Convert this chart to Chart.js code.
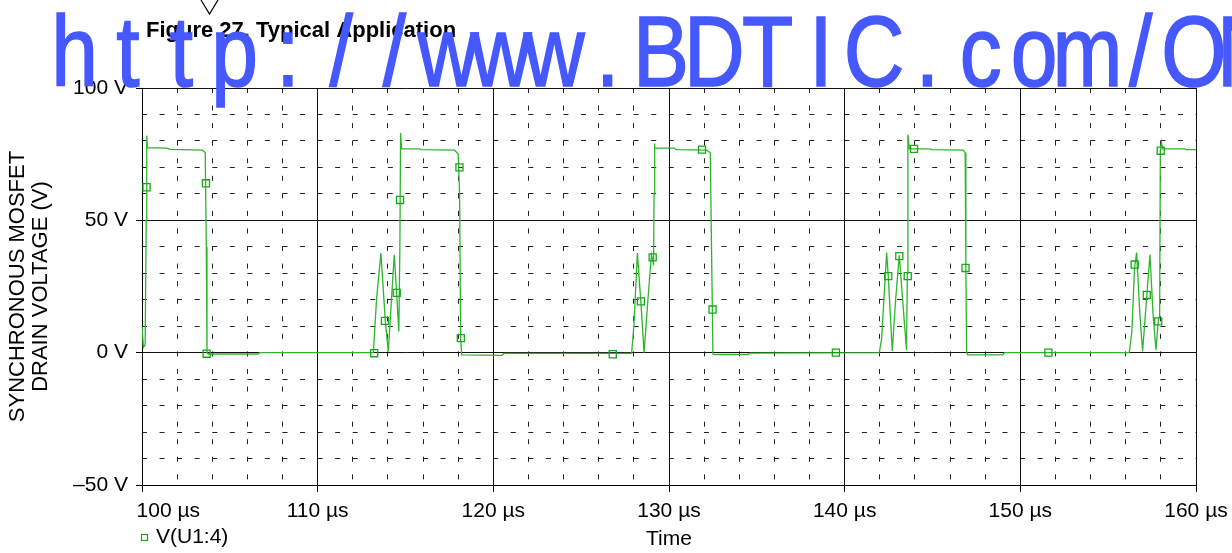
<!DOCTYPE html>
<html><head><meta charset="utf-8">
<script src="https://cdn.jsdelivr.net/npm/chart.js@4.4.1/dist/chart.umd.min.js"></script>
<style>html,body{margin:0;padding:0;background:#fff}#wrap{width:1232px;height:553px;position:relative}</style>
</head><body><div id="wrap"><canvas id="c" width="1232" height="553"></canvas></div>
<script>
// ---- data (time in µs, voltage in V) ----
const timeUs = [100.00,100.08,100.18,100.24,100.27,100.31,101.40,101.60,103.45,103.60,103.66,103.70,103.76,106.60,106.70,
  113.17,113.35,113.60,113.85,114.02,114.20,114.36,114.50,114.62,114.68,114.72,114.78,115.80,115.90,117.80,118.00,118.08,118.14,118.20,120.50,120.60,
  127.87,128.00,128.20,128.40,128.58,128.80,129.00,129.08,129.12,129.15,129.17,129.20,130.30,130.40,132.14,132.35,132.42,132.50,132.60,134.50,134.60,
  141.97,142.10,142.39,142.48,142.71,142.90,143.11,143.30,143.52,143.57,143.60,143.68,144.86,144.95,146.76,146.86,146.90,146.94,147.00,149.00,149.10,
  156.20,156.35,156.50,156.62,156.80,156.96,157.20,157.38,157.55,157.72,157.85,157.93,157.97,158.03,158.10,159.37,159.45,160.00];
const drainV = [10,2,3,50,82,77.5,77.3,76.8,76.5,75.5,40,0,-0.5,-0.5,0,
  0,20,37.6,12,0.5,20,37,22,8,40,83,77,77,76.7,76.5,75,60,5,-0.8,-1,-0.3,
  -0.3,10,37.6,19,0,20,37,35,33,60,79,77.3,77.3,76.7,76.5,75.5,40,-0.4,-0.7,-0.7,-0.2,
  0,5,37.8,29,0.6,20,36.8,20,1,30,82.4,77,77,76.7,76.5,75.5,32,0,-0.8,-0.8,0,
  0,8,32,37.8,15,0.6,21.5,37.1,15,1,12,14,76,79.5,77,77,76.7,76.7];
const markerTimeUs = [100.26,103.64,103.68,113.22,113.83,114.50,114.69,118.07,118.15,126.80,128.40,129.07,131.88,132.48,139.50,142.48,143.11,143.59,143.95,146.88,151.60,156.51,157.20,157.85,157.99];
const markerV      = [62.5,64,-0.4,-0.2,12,22.6,57.7,70,5.5,-0.6,19.4,36,76.7,16.3,0,28.9,36.5,28.9,77,32,0,33.3,21.8,11.8,76.3];
const xMajorTicks = [100,110,120,130,140,150,160];
const yMajorTicks = [-50,0,50,100];
const seriesLabel = 'V(U1:4)';
const xTitle = 'Time';
const yTitle = ['SYNCHRONOUS MOSFET','DRAIN VOLTAGE (V)'];
const figureTitle = 'Figure 27. Typical Application';
const watermark = 'http://www.BDTIC.com/ON';

const FONT = '"Liberation Sans", Arial, Helvetica, sans-serif';
const GREEN = '#2db52d';
const MARK = '#17a817';

const overlay = {
  id: 'overlay',
  afterDraw(chart) {
    const ctx = chart.ctx;
    ctx.save();
    // legend
    ctx.strokeStyle = MARK; ctx.lineWidth = 1.2;
    ctx.strokeRect(141.5, 534.5, 6, 6);
    ctx.fillStyle = '#000'; ctx.font = '21px ' + FONT;
    ctx.textAlign = 'left'; ctx.textBaseline = 'middle';
    ctx.fillText(seriesLabel, 156, 537);
    // figure title
    ctx.font = 'bold 22px ' + FONT; ctx.textBaseline = 'alphabetic';
    ctx.fillText(figureTitle, 146, 37);
    // small V mark
    ctx.beginPath(); ctx.moveTo(201, 0); ctx.lineTo(209.5, 14); ctx.lineTo(218, 0);
    ctx.lineWidth = 1.2; ctx.strokeStyle = '#000'; ctx.stroke();
    // watermark
    ctx.fillStyle = '#4658ff'; ctx.strokeStyle = '#4658ff'; ctx.lineWidth = 1.6;
    ctx.font = '100px ' + FONT; ctx.textAlign = 'center';
    for (let i = 0; i < watermark.length; i++) {
      ctx.save(); ctx.translate(74.7 + i * 53.3, 86); ctx.scale(0.84, 1);
      ctx.fillText(watermark[i], 0, 0); ctx.strokeText(watermark[i], 0, 0); ctx.restore();
    }
    ctx.restore();
  }
};

new Chart(document.getElementById('c'), {
  type: 'line',
  data: {
    datasets: [
      { label: seriesLabel + ' markers', data: markerTimeUs.map((t, i) => ({x: t, y: markerV[i]})),
        showLine: false, pointStyle: 'rect', pointRadius: 5, pointBorderWidth: 1.3,
        pointBorderColor: MARK, pointBackgroundColor: 'rgba(0,0,0,0)', xAxisID: 'x', yAxisID: 'y' },
      { label: seriesLabel, data: timeUs.map((t, i) => ({x: t, y: drainV[i]})),
        borderColor: GREEN, borderWidth: 1.3, pointRadius: 0, tension: 0, fill: false, xAxisID: 'x', yAxisID: 'y' }
    ]
  },
  options: {
    responsive: false, animation: false, devicePixelRatio: 1,
    layout: { padding: { top: 88, right: 36, left: 0, bottom: 0 } },
    plugins: { legend: { display: false }, tooltip: { enabled: false } },
    scales: {
      xm: { type: 'linear', position: 'bottom', min: 100, max: 160,
        ticks: { display: false, stepSize: 2 },
        grid: { drawTicks: false, color: c => (c.tick && c.tick.value % 10 === 0) ? 'rgba(0,0,0,0)' : '#222', lineWidth: 1 },
        border: { display: false, dash: [5, 12.56] },
        afterFit: s => { s.height = 0; s.paddingLeft = 0; s.paddingRight = 0; } },
      ym: { type: 'linear', position: 'left', min: -50, max: 100,
        ticks: { display: false, stepSize: 10 },
        grid: { drawTicks: false, color: c => (c.tick && c.tick.value % 50 === 0) ? 'rgba(0,0,0,0)' : '#222', lineWidth: 1 },
        border: { display: false, dash: [5, 12.56] },
        afterFit: s => { s.width = 0; s.paddingTop = 0; s.paddingBottom = 0; } },
      x: { type: 'linear', position: 'bottom', min: 100, max: 160,
        afterBuildTicks: s => { s.ticks = xMajorTicks.map(v => ({value: v})); },
        ticks: { color: '#000', font: { family: FONT, size: 21 }, padding: 7, maxRotation: 0,
          callback: (v, i) => (i === 0 ? '\u00a0'.repeat(9) : '') + v + ' \u00b5s' },
        grid: { color: '#111', lineWidth: 1, tickLength: 7, tickColor: '#000' },
        border: { display: true, color: '#000', width: 1 },
        title: { display: true, text: xTitle, color: '#000', font: { family: FONT, size: 21 }, padding: { top: 0, bottom: 1 } },
        afterFit: s => { s.height = 68; s.paddingLeft = 0; s.paddingRight = 0; } },
      y: { type: 'linear', position: 'left', min: -50, max: 100,
        afterBuildTicks: s => { s.ticks = yMajorTicks.map(v => ({value: v})); },
        ticks: { color: '#000', font: { family: FONT, size: 21 }, padding: 8,
          callback: v => (v < 0 ? '\u2013' + Math.abs(v) : v) + ' V' },
        grid: { color: '#111', lineWidth: 1, tickLength: 6, tickColor: '#000' },
        border: { display: true, color: '#000', width: 1 },
        title: { display: true, text: yTitle, color: '#000', font: { family: FONT, size: 22, lineHeight: 1.05 }, padding: { top: 6.5, bottom: 0 } },
        afterFit: s => { s.width = 142; s.paddingTop = 0; s.paddingBottom = 0; } }
    }
  },
  plugins: [overlay]
});
</script>
</body></html>
